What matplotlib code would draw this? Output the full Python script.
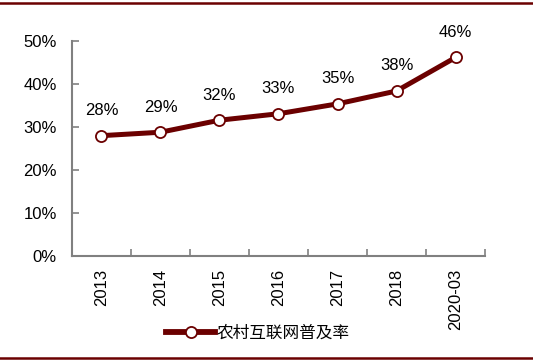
import matplotlib.pyplot as plt
from matplotlib.lines import Line2D
from matplotlib.ticker import FuncFormatter

# data
categories = ['2013', '2014', '2015', '2016', '2017', '2018', '2020-03']
rate = [28.0, 28.8, 31.6, 33.1, 35.4, 38.4, 46.2]
labels = ['28%', '29%', '32%', '33%', '35%', '38%', '46%']
series_name = '农村互联网普及率'

red = '#6b0000'
grey = '#808080'

plt.rcParams['font.family'] = ['Liberation Sans', 'Noto Sans CJK SC']

fig = plt.figure(figsize=(5.33, 3.61), dpi=100)
ax = fig.add_axes([0.135, 0.291, 0.775, 0.595])

x = list(range(len(categories)))
ax.plot(x, rate, color=red, lw=3.6, marker='o', ms=8, mfc='white',
        mec=red, mew=1.3, label=series_name, zorder=3)

for xi, yi, t in zip(x, rate, labels):
    ax.annotate(t, (xi, yi), xytext=(0, 18), textcoords='offset points',
                ha='center', va='center', fontsize=12)

ax.set_xlim(-0.5, len(categories) - 0.5)
ax.set_ylim(0, 50)
ax.set_yticks(range(0, 51, 10))
ax.yaxis.set_major_formatter(FuncFormatter(lambda v, p: f'{v:.0f}%'))

# boundary ticks (major) and centred labels (minor)
ax.set_xticks([i + 0.5 for i in range(-1, len(categories))], minor=False)
ax.set_xticklabels([])
ax.set_xticks(x, minor=True)
ax.set_xticklabels(categories, minor=True, rotation=90, fontsize=12)
ax.tick_params(axis='x', which='minor', length=0, pad=9)
ax.tick_params(axis='x', which='major', direction='in', length=5, color=grey, width=1.2)
ax.tick_params(axis='y', direction='in', length=5, color=grey, width=1.2, pad=11, labelsize=12)

for s in ['top', 'right']:
    ax.spines[s].set_visible(False)
for s in ['left', 'bottom']:
    ax.spines[s].set_color(grey)
    ax.spines[s].set_linewidth(1.5)

leg = fig.legend(loc='center', bbox_to_anchor=(0.484, 0.078), frameon=False,
                 handlelength=2.9, handletextpad=0.1,
                 prop={'family': ['Noto Sans CJK SC'], 'size': 12})
leg.get_lines()[0].set_linewidth(4.2)

# border lines
fig.add_artist(Line2D([0, 1], [0.993, 0.993], color=red, lw=1.8, transform=fig.transFigure))
fig.add_artist(Line2D([0, 1], [0.008, 0.008], color=red, lw=1.8, transform=fig.transFigure))

fig.savefig('out.png', dpi=100)
